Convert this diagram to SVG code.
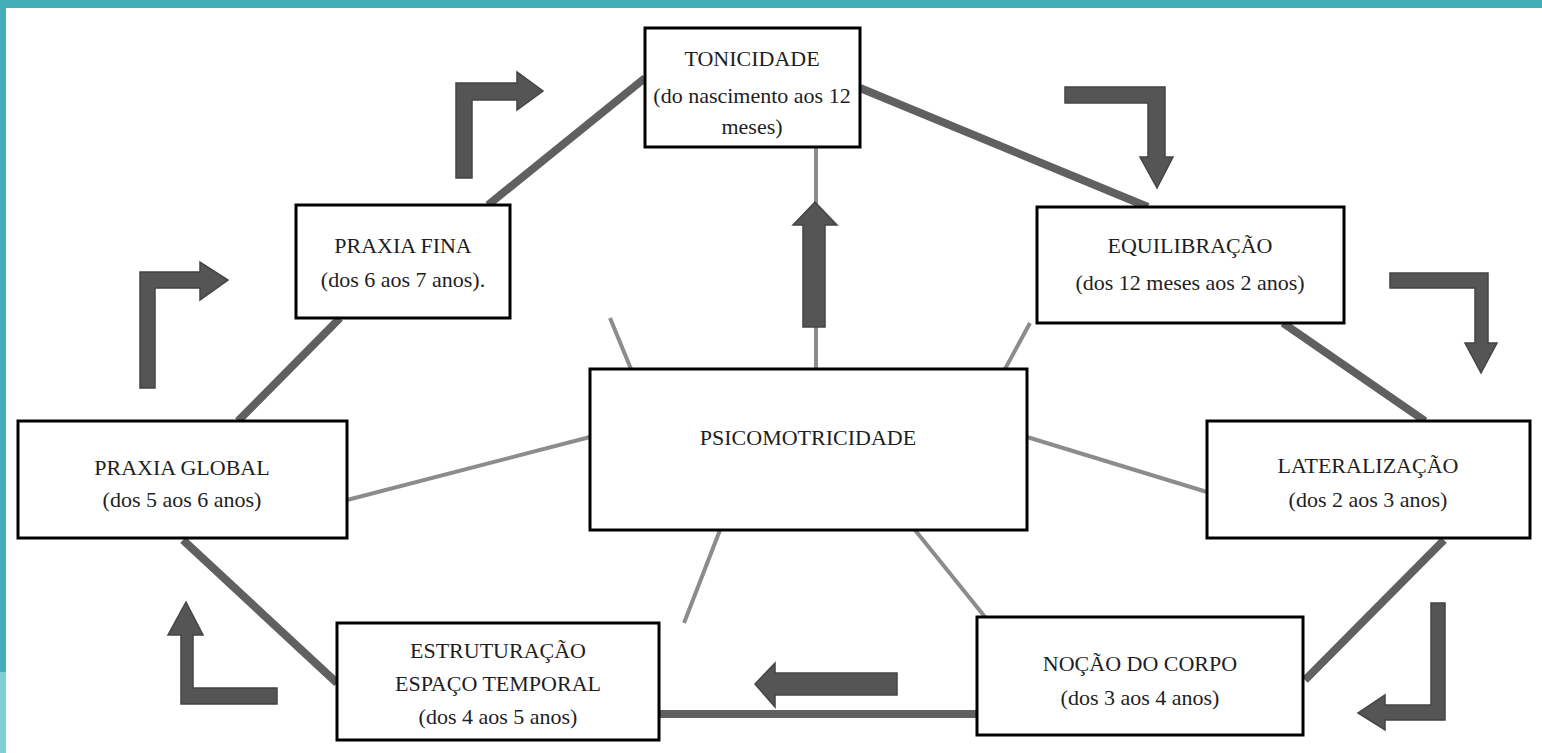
<svg xmlns="http://www.w3.org/2000/svg" width="1542" height="753" viewBox="0 0 1542 753">
<style>
.box{fill:#fff;stroke:#000;stroke-width:3}
text{font-family:'Liberation Serif','DejaVu Serif',serif;font-size:22px;fill:#1e1e1e;text-anchor:middle}
.thick{stroke:#606060;stroke-width:8;fill:none}
.thin{stroke:#8c8c8c;stroke-width:4;fill:none}
.arr{fill:#555;stroke:#444;stroke-width:1.5;stroke-linejoin:miter}
</style>
<rect x="0" y="0" width="1542" height="753" fill="#fff"/>
<rect x="0" y="0" width="1542" height="8" fill="#43aeb8"/>
<rect x="0" y="0" width="6" height="672" fill="#43aeb8"/>
<rect x="0" y="672" width="6" height="81" fill="#7ccfd5"/>
<g id="connectors">
<line class="thick" x1="488" y1="205" x2="645" y2="78"/>
<line class="thick" x1="860" y1="88" x2="1148" y2="207"/>
<line class="thick" x1="1283" y1="323" x2="1425" y2="421"/>
<line class="thick" x1="1444" y1="540" x2="1305" y2="680"/>
<line class="thick" x1="659" y1="714" x2="977" y2="714"/>
<line class="thick" x1="337" y1="683" x2="183" y2="540"/>
<line class="thick" x1="238" y1="421" x2="340" y2="318"/>
<line class="thin" x1="816" y1="369" x2="816" y2="147"/>
<line class="thin" x1="631" y1="369" x2="610" y2="318"/>
<line class="thin" x1="1005" y1="369" x2="1030" y2="323"/>
<line class="thin" x1="590" y1="437" x2="347" y2="500"/>
<line class="thin" x1="1027" y1="437" x2="1207" y2="492"/>
<line class="thin" x1="720" y1="530" x2="684" y2="623"/>
<line class="thin" x1="915" y1="530" x2="985" y2="617"/>
</g>
<g id="arrows">
<polygon class="arr" points="456,178 456,83 517,83 517,72 543,91 517,110 517,100 472,100 472,178"/>
<polygon class="arr" points="1065,87 1165,87 1165,157 1173,157 1157,188 1140,157 1148,157 1148,103 1065,103"/>
<polygon class="arr" points="803,327 803,225 793,225 815,202 837,225 825,225 825,327"/>
<polygon class="arr" points="1390,273 1488,273 1488,343 1497,343 1481,373 1465,343 1475,343 1475,288 1390,288"/>
<polygon class="arr" points="1431,603 1445,603 1445,720 1385,720 1385,730 1358,713 1385,695 1385,705 1431,705"/>
<polygon class="arr" points="897,673 897,695 775,695 775,707 755,684 775,663 775,673"/>
<polygon class="arr" points="277,688 277,704 181,704 181,635 168,635 186,602 203,635 193,635 193,688"/>
<polygon class="arr" points="140,388 140,272 200,272 200,262 228,280 200,300 200,288 155,288 155,388"/>
</g>
<g id="tonicidade">
<rect class="box" x="645" y="28" width="215" height="119"/>
<text x="752" y="66">TONICIDADE</text>
<text x="752" y="103">(do nascimento aos 12</text>
<text x="752" y="134">meses)</text>
</g>
<g id="praxia-fina">
<rect class="box" x="296" y="205" width="214" height="113"/>
<text x="403" y="253">PRAXIA  FINA</text>
<text x="403" y="287">(dos 6 aos 7 anos).</text>
</g>
<g id="equilibracao">
<rect class="box" x="1037" y="207" width="307" height="116"/>
<text x="1190" y="253">EQUILIBRAÇÃO</text>
<text x="1190" y="290">(dos 12 meses aos 2 anos)</text>
</g>
<g id="psicomotricidade">
<rect class="box" x="590" y="369" width="437" height="161"/>
<text x="808" y="445">PSICOMOTRICIDADE</text>
</g>
<g id="praxia-global">
<rect class="box" x="18" y="421" width="329" height="117"/>
<text x="182" y="475">PRAXIA  GLOBAL</text>
<text x="182" y="507">(dos 5 aos 6 anos)</text>
</g>
<g id="lateralizacao">
<rect class="box" x="1207" y="421" width="323" height="117"/>
<text x="1368" y="473">LATERALIZAÇÃO</text>
<text x="1368" y="507">(dos 2 aos 3 anos)</text>
</g>
<g id="estruturacao">
<rect class="box" x="337" y="623" width="322" height="117"/>
<text x="498" y="658">ESTRUTURAÇÃO</text>
<text x="498" y="691">ESPAÇO TEMPORAL</text>
<text x="498" y="724">(dos 4 aos 5 anos)</text>
</g>
<g id="nocao-corpo">
<rect class="box" x="977" y="617" width="326" height="118"/>
<text x="1140" y="671">NOÇÃO DO CORPO</text>
<text x="1140" y="705">(dos 3 aos 4 anos)</text>
</g>
</svg>
